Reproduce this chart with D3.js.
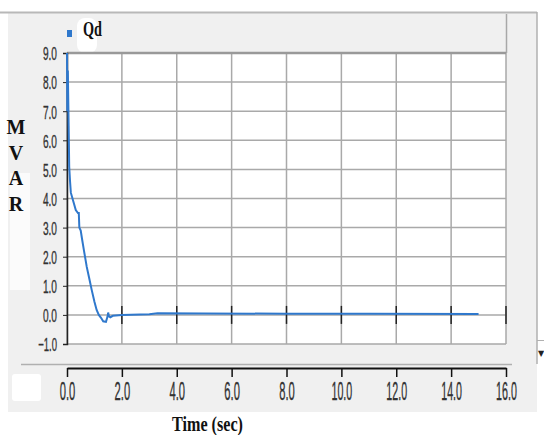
<!DOCTYPE html>
<html>
<head>
<meta charset="utf-8">
<script src="https://cdn.jsdelivr.net/npm/d3@7"></script>
<style>
  body { margin: 0; background: #fff; }
  svg { display: block; }
</style>
</head>
<body>
<div id="container"></div>
<script>
// time (sec) samples of the trace
var times = [0.00, 0.01, 0.03, 0.06, 0.08, 0.11, 0.14, 0.20, 0.26, 0.32, 0.40, 0.43, 0.45, 0.50,
  0.55, 0.62, 0.72, 0.80, 0.90, 1.00, 1.08, 1.16, 1.24, 1.32, 1.42, 1.48, 1.50, 1.53, 1.58,
  1.67, 2.0, 3.0, 3.3, 5.0, 8.0, 11.0, 15.0];
// Qd in MVAR
var qd = [9.0, 7.0, 8.4, 6.5, 5.1, 4.6, 4.2, 4.0, 3.8, 3.6, 3.5, 3.5, 3.0, 2.9,
  2.6, 2.2, 1.65, 1.3, 0.86, 0.45, 0.17, 0.0, -0.1, -0.22, -0.24, -0.05, 0.08, -0.05, -0.08,
  -0.03, 0.0, 0.02, 0.06, 0.05, 0.04, 0.04, 0.03];
var yTicks = [-1, 0, 1, 2, 3, 4, 5, 6, 7, 8, 9];
var xTicks = [0, 2, 4, 6, 8, 10, 12, 14, 16];
var axisLetters = ["M", "V", "A", "R"];

var W = 544, H = 435;
var plot = { left: 67, right: 506, top: 53, bottom: 344 };
var fmt = d3.format('.1f');

var svg = d3.select('#container').append('svg')
  .attr('width', W).attr('height', H);

var x = d3.scaleLinear().domain([0, 16]).range([plot.left, plot.right]);
var y = d3.scaleLinear().domain([-1, 9]).range([plot.bottom, plot.top]);

// window panel
svg.append('rect').attr('x', 8).attr('y', 12).attr('width', 529).attr('height', 400).attr('fill', '#f0f0f0');
svg.append('line').attr('x1', 0).attr('x2', 537).attr('y1', 12.5).attr('y2', 12.5).attr('stroke', '#b8b8b8').attr('stroke-width', 2);
svg.append('line').attr('x1', 537).attr('x2', 537).attr('y1', 12).attr('y2', 364).attr('stroke', '#b0b0b0').attr('stroke-width', 1.5);
svg.append('line').attr('x1', 506.5).attr('x2', 506.5).attr('y1', 14).attr('y2', 53).attr('stroke', '#a8a8a8').attr('stroke-width', 1.5);
svg.append('line').attr('x1', 21).attr('x2', 512).attr('y1', 364.5).attr('y2', 364.5).attr('stroke', '#b0b0b0').attr('stroke-width', 1.5);
svg.append('line').attr('x1', 537).attr('x2', 544).attr('y1', 340.5).attr('y2', 340.5).attr('stroke', '#b0b0b0');
svg.append('text').attr('x', 541).attr('y', 356).attr('font-size', 8).attr('text-anchor', 'middle')
  .attr('font-family', 'DejaVu Sans').attr('fill', '#222').text('\u25BC');

// white artifacts
svg.append('rect').attr('x', 10).attr('y', 173).attr('width', 20).attr('height', 117).attr('fill', '#fbfbfb');
svg.append('rect').attr('x', 12).attr('y', 374).attr('width', 29).attr('height', 27).attr('rx', 3).attr('fill', '#fff');
svg.append('rect').attr('x', 77).attr('y', 18).attr('width', 20).attr('height', 35).attr('rx', 8).attr('fill', '#fff');

// plot area
svg.append('rect').attr('x', plot.left).attr('y', plot.top)
  .attr('width', plot.right - plot.left).attr('height', plot.bottom - plot.top).attr('fill', '#fff');

var grid = svg.append('g').attr('stroke', '#a9a9a9').attr('stroke-width', 1.5);
grid.selectAll('line.h').data(yTicks).enter().append('line')
  .attr('x1', plot.left).attr('x2', plot.right)
  .attr('y1', function(d) { return y(d); }).attr('y2', function(d) { return y(d); });
grid.selectAll('line.v').data(xTicks).enter().append('line')
  .attr('y1', plot.top).attr('y2', plot.bottom)
  .attr('x1', function(d) { return x(d); }).attr('x2', function(d) { return x(d); });
svg.append('line').attr('x1', plot.left).attr('x2', plot.right).attr('y1', plot.top).attr('y2', plot.top)
  .attr('stroke', '#999').attr('stroke-width', 2.5);

// y axis
var yAxis = svg.append('g').attr('transform', 'translate(' + plot.left + ',0)')
  .call(d3.axisLeft(y).tickValues(yTicks).tickSize(4).tickFormat(fmt));
yAxis.select('.domain').attr('stroke', '#222').attr('stroke-width', 1.5);
yAxis.selectAll('.tick line').attr('stroke', '#222');
yAxis.selectAll('.tick text')
  .attr('font-family', 'Liberation Sans').attr('font-size', 19).attr('fill', '#333')
  .attr('stroke', '#333').attr('stroke-width', 0.35)
  .attr('x', -10).attr('dy', '0.36em')
  .attr('textLength', function(d) { return fmt(d).length * 4.7; })
  .attr('lengthAdjust', 'spacingAndGlyphs');

// inner x axis at zero, tick marks crossing
svg.append('g').selectAll('line').data(xTicks.slice(1)).enter().append('line')
  .attr('x1', function(d) { return x(d); }).attr('x2', function(d) { return x(d); })
  .attr('y1', y(0) - 9).attr('y2', y(0) + 9)
  .attr('stroke', '#222').attr('stroke-width', 1.5);

// trace
var line = d3.line()
  .x(function(d, i) { return x(times[i]); })
  .y(function(d) { return y(d); });
svg.append('path').datum(qd).attr('d', line)
  .attr('fill', 'none').attr('stroke', '#2f78cc').attr('stroke-width', 2);

// bottom time axis
var xAxis = svg.append('g').attr('transform', 'translate(0,368)')
  .call(d3.axisBottom(x).tickValues(xTicks).tickSize(9).tickSizeOuter(0).tickFormat(fmt));
xAxis.select('.domain').attr('stroke', '#111').attr('stroke-width', 2);
xAxis.selectAll('.tick line').attr('stroke', '#111').attr('stroke-width', 1.5);
xAxis.selectAll('.tick text')
  .attr('font-family', 'Liberation Sans').attr('font-size', 25).attr('fill', '#333')
  .attr('stroke', '#333').attr('stroke-width', 0.35)
  .attr('y', 14)
  .attr('textLength', function(d) { return fmt(d).length * 5.2; })
  .attr('lengthAdjust', 'spacingAndGlyphs');

// legend
svg.append('rect').attr('x', 67).attr('y', 30).attr('width', 5).attr('height', 7).attr('fill', '#2f78cc');
svg.append('text').attr('x', 83).attr('y', 36).attr('font-family', 'Liberation Serif')
  .attr('font-weight', 'bold').attr('font-size', 20).attr('fill', '#111')
  .attr('textLength', 19).attr('lengthAdjust', 'spacingAndGlyphs').text('Qd');

// axis titles
svg.append('g').selectAll('text').data(axisLetters).enter().append('text')
  .attr('x', 16).attr('y', function(d, i) { return 134 + i * 25.5; })
  .attr('text-anchor', 'middle').attr('font-family', 'Liberation Serif')
  .attr('font-weight', 'bold').attr('font-size', 20).attr('fill', '#111')
  .text(function(d) { return d; });

svg.append('text').attr('x', 172).attr('y', 431).attr('font-family', 'Liberation Serif')
  .attr('font-weight', 'bold').attr('font-size', 21).attr('fill', '#111')
  .attr('textLength', 71).attr('lengthAdjust', 'spacingAndGlyphs').text('Time (sec)');
</script>
</body>
</html>
